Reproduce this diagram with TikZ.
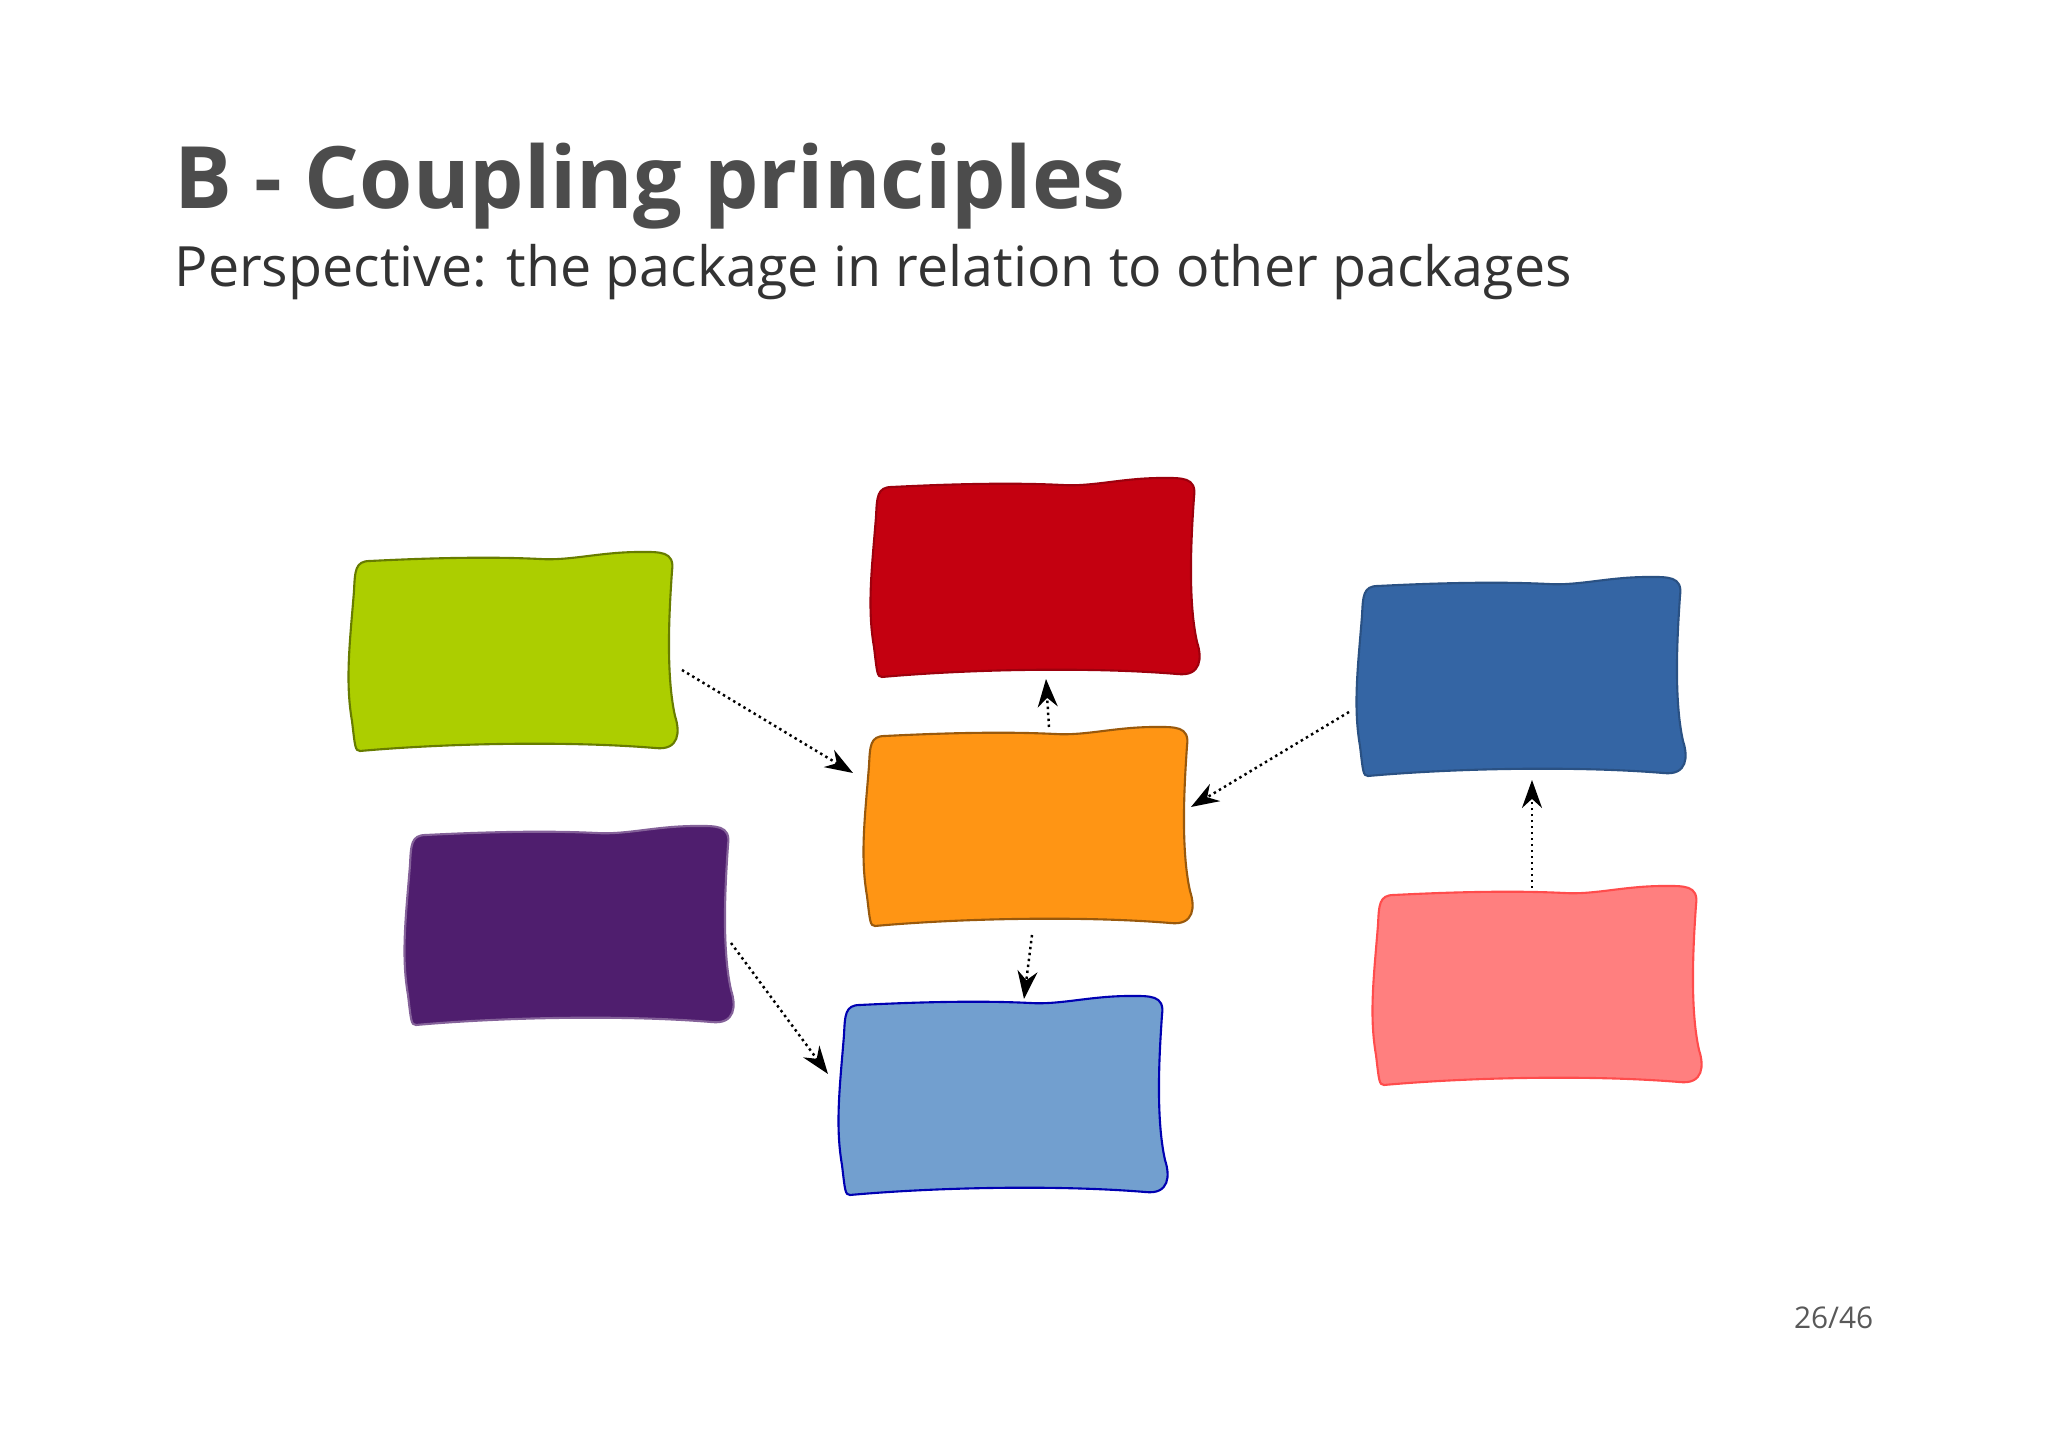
\documentclass[tikz,border=0pt]{standalone}
\usepackage{fontspec}
\setmainfont{Open Sans}
\usetikzlibrary{calc,arrows.meta}
\definecolor{cgreen}{RGB}{172,206,0}
\definecolor{cred}{RGB}{196,0,16}
\definecolor{cdblue}{RGB}{52,101,164}
\definecolor{corange}{RGB}{255,149,20}
\definecolor{cpurple}{RGB}{79,30,110}
\definecolor{clblue}{RGB}{114,159,207}
\definecolor{cpink}{RGB}{255,127,127}
\tikzset{
  boxslot/.style={minimum width=3.26cm,minimum height=1.99cm,anchor=south west,inner sep=0pt},
  dep/.style={densely dotted,line width=0.7pt,-{Stealth[length=0.28cm,width=0.2cm]}}
}
\newcommand{\wavybox}[4]{%
  \node[boxslot] (#1) at (#2) {};
  \draw[fill=#3,draw=#4,line width=0.6pt,shift={(#2)}]
   (0.1,0.0) .. controls (1.0,0.08) and (2.2,0.1) .. (3.05,0.03)
   .. controls (3.3,0.0) and (3.3,0.2) .. (3.25,0.35)
   .. controls (3.15,0.8) and (3.2,1.5) .. (3.22,1.8)
   .. controls (3.25,2.0) and (3.1,1.99) .. (2.9,1.99)
   .. controls (2.5,1.99) and (2.2,1.9) .. (1.9,1.92)
   .. controls (1.3,1.95) and (0.6,1.92) .. (0.2,1.9)
   .. controls (0.05,1.9) and (0.05,1.8) .. (0.04,1.6)
   .. controls (0.0,1.1) and (-0.05,0.7) .. (0.02,0.3)
   .. controls (0.05,0.05) and (0.05,0.0) .. (0.1,0.0) -- cycle;}
\begin{document}
\begin{tikzpicture}
\useasboundingbox[fill=white] (0,0) rectangle (20.48,14.49);
\node[anchor=base west,inner sep=0,text=black!70,font=\fontsize{24.5}{28}\selectfont\bfseries] (title) at (1.74,12.40) {B - Coupling principles};
\node[anchor=base west,inner sep=0,text=black!80,font=\fontsize{15.8}{19}\selectfont] (sub) at (1.74,11.62) {Perspective: the package in relation to other packages};
\node[anchor=base east,inner sep=0,text=black!65,font=\fontsize{8.5}{10}\selectfont] (page) at (18.74,1.20) {26/46};
\wavybox{green}{3.50,6.98}{cgreen}{cgreen!60!black}
\wavybox{red}{8.72,7.72}{cred}{cred!80!black}
\wavybox{dblue}{13.58,6.73}{cdblue}{cdblue!80!black}
\wavybox{orange}{8.65,5.23}{corange}{corange!60!black}
\wavybox{purple}{4.06,4.24}{cpurple}{cpurple!70!white}
\wavybox{lblue}{8.40,2.54}{clblue}{blue!70!black}
\wavybox{pink}{13.74,3.64}{cpink}{red!70!white}
\coordinate (a1) at (6.82,7.79); \coordinate (a2) at (8.53,6.76);
\coordinate (b1) at (10.49,7.22); \coordinate (b2) at (10.46,7.70);
\coordinate (c1) at (13.49,7.37); \coordinate (c2) at (11.91,6.42);
\coordinate (d1) at (10.32,5.14); \coordinate (d2) at (10.24,4.50);
\coordinate (e1) at (7.31,5.06); \coordinate (e2) at (8.28,3.75);
\coordinate (f1) at (15.32,5.61); \coordinate (f2) at (15.32,6.69);
\draw[dep] (a1) -- (a2);
\draw[dep] (b1) -- (b2);
\draw[dep] (c1) -- (c2);
\draw[dep] (d1) -- (d2);
\draw[dep] (e1) -- (e2);
\draw[dep] (f1) -- (f2);
\end{tikzpicture}
\end{document}
